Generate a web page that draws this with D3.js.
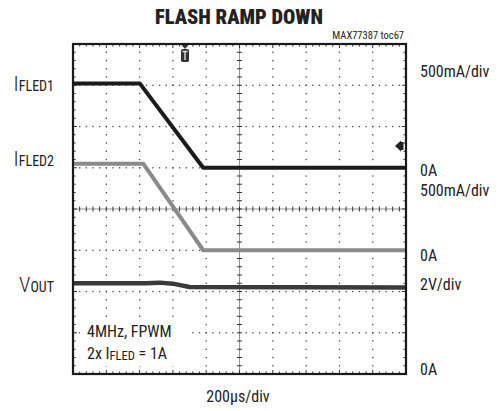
<!DOCTYPE html>
<html><head><meta charset="utf-8">
<script src="https://cdn.jsdelivr.net/npm/d3@7"></script>
<style>
html,body{margin:0;padding:0;background:#fff;}
svg{display:block;}
text{font-family:"Liberation Sans Narrow","Arial Narrow","Roboto Condensed","Liberation Sans",sans-serif;fill:#222;}
</style></head>
<body><div id="chart"></div>
<script>
// ---- data ----
const titleText = "FLASH RAMP DOWN";
const noteId = "MAX77387 toc67";
const timeDivLabel = "200µs/div";
const usPerDiv = 200;
const xDivisions = 10;
const yDivisions = 8;

// IFLED1 (mA), 500mA/div, zero at division 5
const ifled1Time = [0, 402, 782, 2000];
const ifled1Val  = [1020, 1020, 0, 0];
// IFLED2 (mA), 500mA/div, zero at division 3
const ifled2Time = [0, 422, 782, 2000];
const ifled2Val  = [1050, 1050, 0, 0];
// VOUT (V), 2V/div, zero at division 0
const voutTime = [0, 440, 520, 600, 700, 2000];
const voutVal  = [4.40, 4.40, 4.43, 4.38, 4.22, 4.19];

const channels = [
  {name:"IFLED1", main:"I", sub:"FLED1", time:ifled1Time, val:ifled1Val, perDiv:500, zeroDiv:5, color:"#1b1b1b", width:4, scaleLabel:"500mA/div", zeroLabel:"0A"},
  {name:"IFLED2", main:"I", sub:"FLED2", time:ifled2Time, val:ifled2Val, perDiv:500, zeroDiv:3, color:"#8a8a8a", width:4, scaleLabel:"500mA/div", zeroLabel:"0A"},
  {name:"VOUT",   main:"V", sub:"OUT",   time:voutTime,   val:voutVal,   perDiv:2,   zeroDiv:0, color:"#3a3a3a", width:4.5, scaleLabel:"2V/div", zeroLabel:"0A"}
];

// ---- layout ----
const W = 500, H = 411;
const L = 73, R = 406, T = 44, B = 374;

const svg = d3.select("#chart").append("svg").attr("width", W).attr("height", H);

const x = d3.scaleLinear().domain([0, usPerDiv * xDivisions]).range([L, R]);
const yDiv = d3.scaleLinear().domain([0, yDivisions]).range([B, T]);
const xDivScale = d3.scaleLinear().domain([0, xDivisions]).range([L, R]);

// grid dots
const grid = svg.append("g");
const dotC = "#444";
for (let i = 1; i < xDivisions; i++) {
  if (i === xDivisions / 2) continue;
  for (let k = 1; k < yDivisions * 5; k++) {
    grid.append("rect").attr("x", xDivScale(i) - 0.6).attr("y", yDiv(k / 5) - 0.6)
      .attr("width", 1.3).attr("height", 1.3).attr("fill", dotC);
  }
}
for (let j = 1; j < yDivisions; j++) {
  if (j === yDivisions / 2) continue;
  for (let k = 1; k < xDivisions * 5; k++) {
    grid.append("rect").attr("x", xDivScale(k / 5) - 0.6).attr("y", yDiv(j) - 0.6)
      .attr("width", 1.3).attr("height", 1.3).attr("fill", dotC);
  }
}
// center axes with cross ticks
const cx = xDivScale(xDivisions / 2), cy = yDiv(yDivisions / 2);
grid.append("line").attr("x1", L).attr("x2", R).attr("y1", cy).attr("y2", cy).attr("stroke", "#777").attr("stroke-width", 0.8);
grid.append("line").attr("x1", cx).attr("x2", cx).attr("y1", T).attr("y2", B).attr("stroke", "#777").attr("stroke-width", 0.8);
for (let k = 1; k < xDivisions * 5; k++) {
  const xx = xDivScale(k / 5);
  grid.append("line").attr("x1", xx).attr("x2", xx).attr("y1", cy - 2.5).attr("y2", cy + 2.5).attr("stroke", "#333").attr("stroke-width", 1);
}
for (let k = 1; k < yDivisions * 5; k++) {
  const yy = yDiv(k / 5);
  grid.append("line").attr("x1", cx - 2.5).attr("x2", cx + 2.5).attr("y1", yy).attr("y2", yy).attr("stroke", "#333").attr("stroke-width", 1);
}
// border ticks
for (let k = 1; k < xDivisions * 5; k++) {
  const xx = xDivScale(k / 5), len = (k % 5 === 0) ? 4 : 2.5;
  grid.append("line").attr("x1", xx).attr("x2", xx).attr("y1", T).attr("y2", T + len).attr("stroke", "#333");
  grid.append("line").attr("x1", xx).attr("x2", xx).attr("y1", B).attr("y2", B - len).attr("stroke", "#333");
}
for (let k = 1; k < yDivisions * 5; k++) {
  const yy = yDiv(k / 5), len = (k % 5 === 0) ? 4 : 2.5;
  grid.append("line").attr("x1", L).attr("x2", L + len).attr("y1", yy).attr("y2", yy).attr("stroke", "#333");
  grid.append("line").attr("x1", R).attr("x2", R - len).attr("y1", yy).attr("y2", yy).attr("stroke", "#333");
}

// annotation background
svg.append("rect").attr("x", 80).attr("y", 322).attr("width", 108).attr("height", 44).attr("fill", "#fff");

// traces
channels.slice().reverse().forEach(ch => {
  const pts = ch.time.map((t, i) => [t, ch.val[i]]);
  const line = d3.line().x(d => x(d[0])).y(d => yDiv(ch.zeroDiv + d[1] / ch.perDiv));
  svg.append("path").datum(pts).attr("d", line).attr("fill", "none")
    .attr("stroke", ch.color).attr("stroke-width", ch.width).attr("stroke-linejoin", "round");
});

// frame
svg.append("rect").attr("x", L).attr("y", T).attr("width", R - L).attr("height", B - T)
  .attr("fill", "none").attr("stroke", "#1a1a1a").attr("stroke-width", 2.2);

// trigger marker (top)
const tx = 185;
svg.append("path").attr("d", `M${tx-3.5},${T+1} L${tx+3.5},${T+1} L${tx},${T+5} Z`).attr("fill", "#333");
svg.append("rect").attr("x", tx - 4).attr("y", T + 5).attr("width", 8).attr("height", 13).attr("rx", 1.8).attr("fill", "#333");
svg.append("path").attr("d", `M${tx-2.5},${T+7.5} L${tx+2.5},${T+7.5} M${tx},${T+7.5} L${tx},${T+16}`).attr("stroke", "#ddd").attr("stroke-width", 1.4);
// right level marker
svg.append("path").attr("d", `M${R-11},146 L${R-5},140.5 L${R-5},151.5 Z`).attr("fill", "#222");
svg.append("rect").attr("x", R - 5).attr("y", 142).attr("width", 2.5).attr("height", 8).attr("fill", "#222");

// title
svg.append("text").attr("x", 239).attr("y", 24).attr("text-anchor", "middle")
  .attr("font-size", 20).attr("font-weight", 900).attr("fill", "#1a1a1a")
  .attr("textLength", 168).attr("lengthAdjust", "spacingAndGlyphs").text(titleText);
svg.append("text").attr("x", 404).attr("y", 39).attr("text-anchor", "end")
  .attr("font-size", 10.5).attr("fill", "#555").text(noteId);

// left channel labels
const leftBase = [90.5, 166, 292];
channels.forEach((ch, i) => {
  const t = svg.append("text").attr("x", 54).attr("y", leftBase[i]).attr("text-anchor", "end").attr("fill", "#333");
  t.append("tspan").attr("font-size", 21).attr("font-weight", 300).text(ch.main);
  t.append("tspan").attr("font-size", 14).text(ch.sub);
});

// right labels
const rightLabels = [
  {t: channels[0].scaleLabel, y: 77}, {t: channels[0].zeroLabel, y: 176},
  {t: channels[1].scaleLabel, y: 196}, {t: channels[1].zeroLabel, y: 260.5},
  {t: channels[2].scaleLabel, y: 290}, {t: channels[2].zeroLabel, y: 375}
];
rightLabels.forEach(d => {
  svg.append("text").attr("x", 420).attr("y", d.y).attr("font-size", 16).attr("fill", "#333").text(d.t);
});

// annotations
svg.append("text").attr("x", 87).attr("y", 337).attr("font-size", 16).attr("fill", "#333").text("4MHz, FPWM");
const a2 = svg.append("text").attr("x", 87).attr("y", 359).attr("font-size", 16).attr("fill", "#333");
a2.append("tspan").text("2x I");
a2.append("tspan").attr("font-size", 12.5).attr("dy", 1).text("FLED");
a2.append("tspan").attr("dy", -1).text(" = 1A");

// x label
svg.append("text").attr("x", 238).attr("y", 402).attr("text-anchor", "middle").attr("font-size", 16).attr("fill", "#333").text(timeDivLabel);
</script></body></html>
